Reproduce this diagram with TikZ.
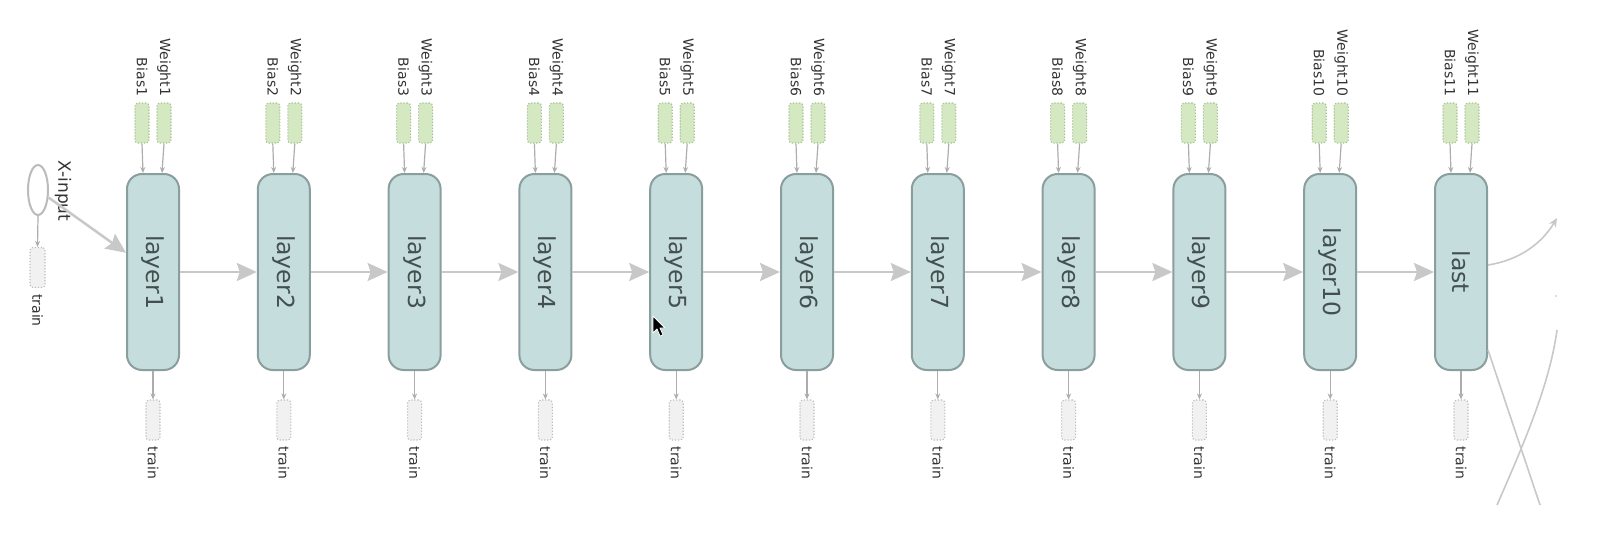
\documentclass[tikz,border=0pt]{standalone}
\usepackage{fontspec}
\setmainfont{DejaVu Sans}
\usetikzlibrary{arrows.meta,shapes.geometric,calc}
\definecolor{layfill}{HTML}{C5DDDD}
\definecolor{layline}{HTML}{8A9E9E}
\definecolor{laytext}{HTML}{44504F}
\definecolor{paramfill}{HTML}{D4E8C2}
\definecolor{parline}{HTML}{A6C096}
\definecolor{trainfill}{HTML}{F1F1F1}
\definecolor{trainline}{HTML}{BDBDBD}
\definecolor{labtext}{HTML}{333333}
\definecolor{arrcol}{HTML}{C8C8C8}
\definecolor{sarrcol}{HTML}{ADADAD}
\definecolor{ellcol}{HTML}{BBBBBB}
\begin{document}
\begin{tikzpicture}[x=1pt,y=-1pt,
  layerbox/.style={draw=layline, fill=layfill, line width=2pt, rounded corners=15pt, rotate=-90, minimum width=196pt, minimum height=52pt, inner sep=0pt, text=laytext, font=\fontsize{23.5}{26}\selectfont},
  parambox/.style={draw=parline, fill=paramfill, line width=1.1pt, dash pattern=on 1.2pt off 1.8pt, rounded corners=3pt, minimum width=14pt, minimum height=40pt, inner sep=0pt},
  trainbox/.style={parambox, draw=trainline, fill=trainfill},
  smalllabel/.style={rotate=-90, inner sep=0pt, text=labtext, font=\fontsize{14}{16}\selectfont},
  bigarrow/.style={draw=arrcol, line width=2.5pt, -{Stealth[length=20pt,width=18pt,inset=3pt]}},
  smallarrow/.style={draw=sarrcol, line width=1.2pt, -{Stealth[length=6pt,width=5pt]}},
  edgeline/.style={draw=arrcol, line width=1.6pt}]
\useasboundingbox (0,0) rectangle (1606,554);

% layers
\foreach \i in {1,...,11}{
  \pgfmathsetmacro{\xx}{153+130.8*(\i-1)}
  \node[layerbox] (l\i) at (\xx,272) {\ifnum\i<11 layer\i\else last\fi};
  \node[parambox] (b\i) at (\xx-11,123) {};
  \node[parambox] (w\i) at (\xx+11,123) {};
  \node[smalllabel, anchor=east] (bl\i) at ([yshift=6pt]b\i.north) {Bias\i};
  \node[smalllabel, anchor=east] (wl\i) at ([yshift=6pt]w\i.north) {Weight\i};
  \draw[smallarrow] (b\i.south) -- ([xshift=-10pt]l\i.west);
  \draw[smallarrow] (w\i.south) -- ([xshift=9pt]l\i.west);
  \node[trainbox] (t\i) at (\xx,420) {};
  \draw[smallarrow] (l\i.east) -- (t\i.north);
  \node[smalllabel, anchor=west] (tl\i) at ([yshift=-6pt]t\i.south) {train};
}
\foreach \i in {1,...,10}{
  \pgfmathtruncatemacro{\j}{\i+1}
  \draw[bigarrow] (l\i) -- (l\j);
}

% input
\node[ellipse, draw=ellcol, fill=white, line width=2pt, minimum width=20pt, minimum height=50pt, inner sep=0pt] (xin) at (38,190) {};
\node[smalllabel, font=\fontsize{17}{19}\selectfont] (xinl) at (63,191) {X-input};
\node[trainbox, minimum width=15pt] (t0) at (37.5,267.5) {};
\draw[smallarrow] (xin.south) -- (t0.north);
\node[smalllabel, anchor=west] (tl0) at ([yshift=-6pt]t0.south) {train};
\draw[bigarrow] (xin) -- (l1);

% right side edges (cut off)
\coordinate (e1) at (1557,218);
\draw[edgeline, -{Stealth[length=9pt,width=8pt]}] ([yshift=7pt]l11.north) .. controls (1520,260) and (1542,243) .. (e1);
\fill[arrcol] (1556,296) circle (1pt);
\coordinate (e2a) at (1557,330);
\coordinate (e2b) at (1497,505);
\draw[edgeline] (e2a) .. controls (1550,380) and (1530,430) .. (e2b);
\coordinate (e3) at (1540,505);
\draw[edgeline] ([yshift=-78pt]l11.north) -- (e3);

% mouse cursor
\filldraw[fill=black, draw=white, line width=0.8pt, line join=round] (653,316) -- ++(0,17) -- ++(4,-4) -- ++(3,7) -- ++(3,-1) -- ++(-3,-7) -- ++(5,0) -- cycle;
\end{tikzpicture}
\end{document}
